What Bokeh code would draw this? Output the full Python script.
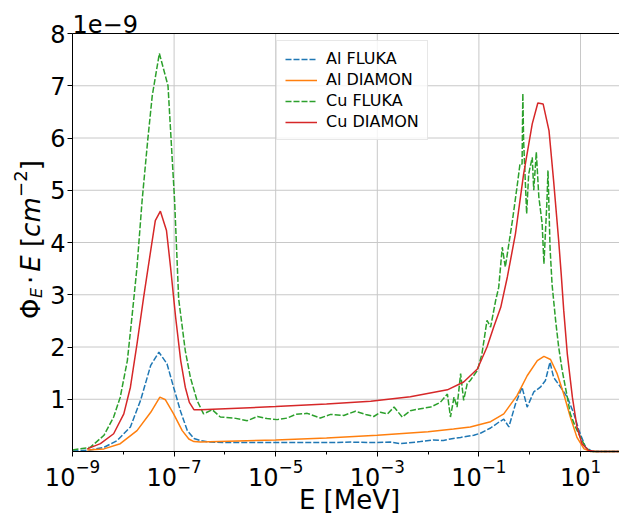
import numpy as np
from bokeh.plotting import figure
from bokeh.models import (Range1d, FixedTicker, LogTickFormatter, LogAxis, Label,
                          Legend, LegendItem)
from bokeh.embed import file_html
from bokeh.resources import INLINE

# ---- data: x as log10(E / MeV), y as Phi_E * E in units of 1e-9 cm^-2 ----
al_fluka_loge = [-9.0, -8.8, -8.65, -8.38, -8.12, -7.86, -7.66, -7.46, -7.30, -7.14, -7.01, -6.87,
                 -6.74, -6.61, -6.48, -6.3, -6.0, -5.5, -5.0, -4.5, -4.0, -3.5, -3.13, -2.74, -2.54,
                 -2.15, -1.9, -1.7, -1.56, -1.36, -1.10, -0.97, -0.77, -0.61, -0.51, -0.41, -0.28,
                 -0.15, -0.05, 0.08, 0.21, 0.31, 0.40, 0.47, 0.61, 0.74, 0.87, 0.97, 1.10, 1.23, 1.8]
al_fluka_val = [0.01, 0.02, 0.03, 0.08, 0.21, 0.47, 0.98, 1.65, 1.90, 1.68, 1.23, 0.76,
                0.40, 0.25, 0.21, 0.18, 0.17, 0.17, 0.17, 0.17, 0.17, 0.18, 0.17, 0.18, 0.15,
                0.19, 0.22, 0.21, 0.24, 0.27, 0.31, 0.35, 0.45, 0.56, 0.62, 0.47, 0.91,
                1.23, 0.85, 1.14, 1.23, 1.36, 1.71, 1.42, 1.23, 1.04, 0.72, 0.40, 0.08, 0.0, 0.0]

al_diamon_loge = [-8.71, -8.38, -8.06, -7.73, -7.46, -7.28, -7.17, -7.01, -6.84, -6.71, -6.61, -6.48,
                  -5.0, -4.0, -3.0, -2.0, -1.5, -1.17, -0.77, -0.51, -0.25, -0.05, 0.15, 0.28, 0.41,
                  0.54, 0.67, 0.80, 0.93, 1.07, 1.20, 1.8]
al_diamon_val = [0.03, 0.05, 0.15, 0.40, 0.75, 1.04, 0.99, 0.72, 0.40, 0.24, 0.19, 0.18,
                 0.22, 0.26, 0.31, 0.38, 0.43, 0.47, 0.57, 0.72, 1.07, 1.45, 1.74, 1.82, 1.76,
                 1.49, 1.10, 0.66, 0.27, 0.05, 0.0, 0.0]

cu_fluka_loge = [-9.0, -8.65, -8.38, -8.19, -8.06, -7.92, -7.83, -7.73, -7.63, -7.52, -7.43, -7.29,
                 -7.12, -6.99, -6.91, -6.78, -6.68, -6.55, -6.42, -6.25, -6.09, -5.82, -5.56, -5.36,
                 -5.17, -4.97, -4.77, -4.61, -4.38, -4.12, -3.92, -3.66, -3.43, -3.23, -3.07, -2.94,
                 -2.80, -2.67, -2.51, -2.35, -2.15, -1.95, -1.76, -1.62, -1.56, -1.49, -1.43, -1.36,
                 -1.30, -1.23, -1.17, -1.03, -0.94, -0.84, -0.77, -0.67, -0.61, -0.54, -0.48, -0.34,
                 -0.25, -0.19, -0.15, -0.135, -0.12, -0.06, -0.02, 0.05, 0.08, 0.13, 0.18, 0.245,
                 0.28, 0.34, 0.36, 0.40, 0.44, 0.51, 0.57, 0.64, 0.74, 0.80, 0.90, 1.0, 1.10, 1.20, 1.8]
cu_fluka_val = [0.03, 0.08, 0.31, 0.66, 1.04, 1.74, 2.57, 3.53, 4.80, 5.95, 6.81, 7.62,
                7.00, 4.80, 2.92, 1.93, 1.42, 0.98, 0.72, 0.80, 0.66, 0.64, 0.59, 0.67,
                0.63, 0.61, 0.64, 0.71, 0.73, 0.64, 0.71, 0.69, 0.77, 0.71, 0.67, 0.75,
                0.72, 0.85, 0.66, 0.78, 0.82, 0.85, 0.94, 1.10, 0.66, 1.04, 0.85, 1.49,
                0.98, 1.30, 1.36, 1.55, 1.87, 2.51, 2.38, 2.89, 3.14, 3.91, 3.53, 4.42,
                5.06, 5.51, 5.50, 6.85, 5.95, 4.55, 5.31, 5.63, 5.00, 5.73, 4.87, 4.36,
                3.59, 4.80, 5.38, 3.91, 3.20, 2.51, 2.00, 1.55, 1.04, 0.72, 0.47, 0.27, 0.08, 0.0, 0.0]

cu_diamon_loge = [-8.71, -8.45, -8.19, -7.99, -7.86, -7.73, -7.60, -7.46, -7.37, -7.27, -7.15, -7.07,
                  -6.97, -6.87, -6.78, -6.70, -6.61, -6.48, -5.0, -4.0, -3.13, -2.35, -1.62, -1.30,
                  -1.03, -0.84, -0.71, -0.57, -0.44, -0.28, -0.12, 0.05, 0.16, 0.265, 0.38, 0.47,
                  0.57, 0.62, 0.67, 0.74, 0.84, 0.93, 1.03, 1.16, 1.3, 1.8]
cu_diamon_val = [0.05, 0.15, 0.34, 0.72, 1.23, 2.06, 2.95, 3.85, 4.42, 4.60, 4.23, 3.53,
                 2.57, 1.74, 1.23, 0.94, 0.80, 0.80, 0.86, 0.91, 0.96, 1.05, 1.18, 1.33,
                 1.58, 2.00, 2.38, 2.76, 3.34, 4.17, 5.31, 6.27, 6.67, 6.65, 6.14, 5.19,
                 4.04, 3.40, 2.70, 1.87, 1.04, 0.47, 0.15, 0.02, 0.0, 0.0]

x_ticks = [1e-9, 1e-7, 1e-5, 1e-3, 1e-1, 1e1]
x_minor = [1e-8, 1e-6, 1e-4, 1e-2, 1e0]
y_ticks = [1, 2, 3, 4, 5, 6, 7, 8]
labels = ["Al FLUKA", "Al DIAMON", "Cu FLUKA", "Cu DIAMON"]

# axes limits (data units) and the full canvas extent around them
x_min, x_max = 1e-9, 10 ** 1.7677
y_min, y_max = 0, 8
W, H = 619, 513
FONT = "DejaVu Sans"

p = figure(width=W, height=H, x_axis_type="log",
           x_range=Range1d(10 ** -10.4173, x_max), y_range=Range1d(-1.1866, 8.6316),
           output_backend="svg", toolbar_location=None, title=None, min_border=0)
p.outline_line_color = None
p.background_fill_color = "white"
p.border_fill_color = "white"
p.xgrid.visible = False
p.ygrid.visible = False

# grid lines at the tick positions, limited to the axes box
nx, ny = len(x_ticks), len(y_ticks)
p.segment(x0=x_ticks, y0=[y_min] * nx, x1=x_ticks, y1=[y_max] * nx,
          line_color="#c8c8c8", line_width=1)
p.segment(x0=[x_min] * ny, y0=y_ticks, x1=[x_max] * ny, y1=y_ticks,
          line_color="#c8c8c8", line_width=1)

series = [
    (al_fluka_loge, al_fluka_val, "#1f77b4", "6 2"),
    (al_diamon_loge, al_diamon_val, "#ff7f0e", "solid"),
    (cu_fluka_loge, cu_fluka_val, "#2ca02c", "6 2"),
    (cu_diamon_loge, cu_diamon_val, "#d62728", "solid"),
]
renderers = []
for loge, vals, col, dash in series:
    e = 10.0 ** np.array(loge)
    r = p.line(e, vals, line_color=col, line_width=1.5, line_dash=dash)
    renderers.append(r)

# axes drawn at fixed data locations
xa = p.xaxis[0]
ya = p.yaxis[0]
xa.fixed_location = y_min
xa.bounds = (x_min, x_max)
xa.ticker = FixedTicker(ticks=x_ticks, minor_ticks=x_minor)
xa.formatter = LogTickFormatter()
ya.fixed_location = x_min
ya.bounds = (y_min, y_max)
ya.ticker = FixedTicker(ticks=y_ticks)

for ax in (xa, ya):
    ax.axis_line_color = "black"
    ax.axis_line_width = 1
    ax.major_tick_line_color = "black"
    ax.major_tick_out = 5
    ax.major_tick_in = 0
    ax.major_label_text_font = FONT
    ax.major_label_text_font_size = "24px"
    ax.major_label_text_color = "black"
    ax.axis_label = None
xa.major_label_standoff = 2
ya.major_label_standoff = 2
xa.minor_tick_line_color = "black"
xa.minor_tick_out = 3
xa.minor_tick_in = 0
ya.minor_tick_line_color = None

# top spine
top = LogAxis(fixed_location=y_max, bounds=(x_min, x_max), ticker=FixedTicker(ticks=[]),
              major_tick_line_color=None, minor_tick_line_color=None,
              major_label_text_font_size="0px", axis_line_color="black", axis_line_width=1)
p.add_layout(top, "above")

# legend
legend = Legend(items=[LegendItem(label=l, renderers=[r]) for l, r in zip(labels, renderers)],
                location=(276, 373))
legend.label_text_font = FONT
legend.label_text_font_size = "16px"
legend.label_text_color = "black"
legend.glyph_width = 32
legend.glyph_height = 18
legend.label_height = 18
legend.spacing = 2
legend.padding = 8
legend.margin = 0
legend.label_standoff = 9
legend.border_line_color = "#d0d0d0"
legend.border_line_width = 1
legend.background_fill_alpha = 0.8
p.add_layout(legend)

# offset text (scale factor of the y axis)
p.add_layout(Label(x=72, y=489.5, x_units="screen", y_units="screen", text="1e\u22129",
                   text_font=FONT, text_font_size="24px", text_color="black",
                   text_align="left", text_baseline="alphabetic"))

# x axis title
p.add_layout(Label(x=349, y=14, x_units="screen", y_units="screen", text="E [MeV]",
                   text_font=FONT, text_font_size="26px", text_color="black",
                   text_align="center", text_baseline="alphabetic"))

# y axis title composed of pieces: text, style, size, x, y (screen px)
ylab = [("\u03a6", "normal", "26px", 30, 194.6),
        ("E", "italic", "16px", 36, 215.4),
        ("\u00b7", "normal", "26px", 30, 229.5),
        ("E", "italic", "26px", 30, 241.8),
        ("[", "normal", "26px", 30, 266.5),
        ("cm", "italic", "26px", 30, 276.6),
        ("\u22122", "normal", "18px", 20, 316.6),
        ("]", "normal", "26px", 30, 343.2)]
for txt, sty, size, lx, ly in ylab:
    p.add_layout(Label(x=lx, y=ly, x_units="screen", y_units="screen", text=txt,
                       text_font=FONT, text_font_style=sty, text_font_size=size,
                       text_color="black", angle=np.pi / 2,
                       text_align="left", text_baseline="alphabetic"))

open("out.html", "w").write(file_html(p, INLINE))
